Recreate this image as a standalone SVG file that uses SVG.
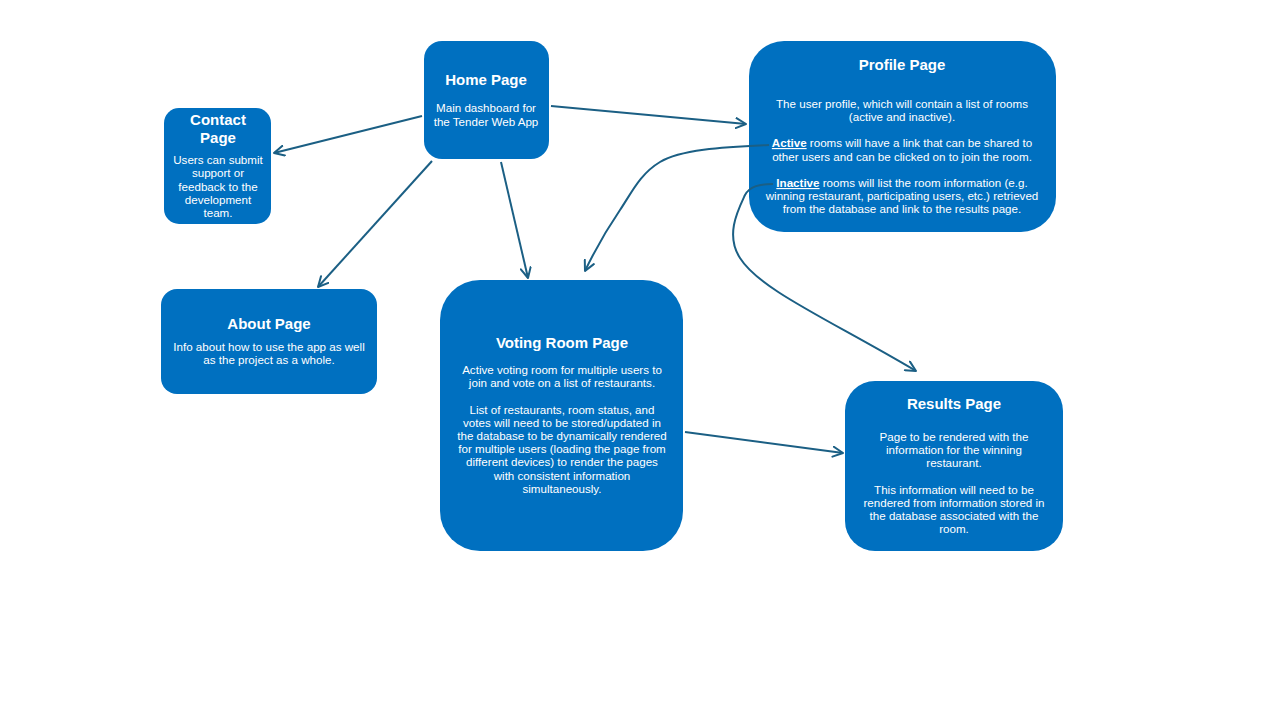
<svg xmlns="http://www.w3.org/2000/svg" width="1280" height="720" viewBox="0 0 1280 720">
<defs>
<style>
.node{fill:#0070C0;}
.t{font-family:"Liberation Sans",Arial,sans-serif;fill:#fff;text-anchor:middle;}
.h{font-size:15px;font-weight:bold;}
.b{font-size:11.6px;}
.u{font-weight:bold;text-decoration:underline;}
.c{fill:none;stroke:#1B5F84;stroke-width:2;marker-end:url(#ah);}
</style>
<marker id="ah" viewBox="0 0 12 12" refX="11" refY="6" markerWidth="12" markerHeight="12" markerUnits="userSpaceOnUse" orient="auto">
<path d="M1,1 L11,6 L1,11" fill="none" stroke="#1B5F84" stroke-width="2" stroke-linecap="round" stroke-linejoin="round"/>
</marker>
</defs>
<rect width="1280" height="720" fill="#fff"/>
<g id="home">
<rect class="node" x="424" y="41" width="125" height="118" rx="18"/>
<text class="t h" x="486" y="85">Home Page</text>
<text class="t b" x="486" y="112">Main dashboard for</text>
<text class="t b" x="486" y="126">the Tender Web App</text>
</g>
<g id="contact">
<rect class="node" x="164" y="108" width="107" height="116" rx="15"/>
<text class="t h" x="218" y="125">Contact</text>
<text class="t h" x="218" y="143">Page</text>
<text class="t b" x="218" y="164">Users can submit</text>
<text class="t b" x="218" y="177">support or</text>
<text class="t b" x="218" y="191">feedback to the</text>
<text class="t b" x="218" y="204">development</text>
<text class="t b" x="218" y="217">team.</text>
</g>
<g id="profile">
<rect class="node" x="749" y="41" width="307" height="191" rx="35"/>
<text class="t h" x="902" y="70">Profile Page</text>
<text class="t b" x="902" y="108">The user profile, which will contain a list of rooms</text>
<text class="t b" x="902" y="121">(active and inactive).</text>
<text class="t b" x="902" y="147"><tspan class="u">Active</tspan> rooms will have a link that can be shared to</text>
<text class="t b" x="902" y="161">other users and can be clicked on to join the room.</text>
<text class="t b" x="902" y="187"><tspan class="u">Inactive</tspan> rooms will list the room information (e.g.</text>
<text class="t b" x="902" y="200">winning restaurant, participating users, etc.) retrieved</text>
<text class="t b" x="902" y="213">from the database and link to the results page.</text>
</g>
<g id="about">
<rect class="node" x="161" y="289" width="216" height="105" rx="16"/>
<text class="t h" x="269" y="329">About Page</text>
<text class="t b" x="269" y="351">Info about how to use the app as well</text>
<text class="t b" x="269" y="364">as the project as a whole.</text>
</g>
<g id="voting">
<rect class="node" x="440" y="280" width="243" height="271" rx="40"/>
<text class="t h" x="562" y="348">Voting Room Page</text>
<text class="t b" x="562" y="374">Active voting room for multiple users to</text>
<text class="t b" x="562" y="387">join and vote on a list of restaurants.</text>
<text class="t b" x="562" y="414">List of restaurants, room status, and</text>
<text class="t b" x="562" y="427">votes will need to be stored/updated in</text>
<text class="t b" x="562" y="440">the database to be dynamically rendered</text>
<text class="t b" x="562" y="453">for multiple users (loading the page from</text>
<text class="t b" x="562" y="466">different devices) to render the pages</text>
<text class="t b" x="562" y="480">with consistent information</text>
<text class="t b" x="562" y="493">simultaneously.</text>
</g>
<g id="results">
<rect class="node" x="845" y="381" width="218" height="170" rx="30"/>
<text class="t h" x="954" y="409">Results Page</text>
<text class="t b" x="954" y="441">Page to be rendered with the</text>
<text class="t b" x="954" y="454">information for the winning</text>
<text class="t b" x="954" y="467">restaurant.</text>
<text class="t b" x="954" y="494">This information will need to be</text>
<text class="t b" x="954" y="507">rendered from information stored in</text>
<text class="t b" x="954" y="520">the database associated with the</text>
<text class="t b" x="954" y="533">room.</text>
</g>
<g id="connectors">
<path class="c" d="M422,116 L274,153"/>
<path class="c" d="M551,106 L746,124"/>
<path class="c" d="M432,161 L318,287"/>
<path class="c" d="M501,162 L528,278"/>
<path class="c" d="M769,145 C720,147 680,150 660,162 C640,174 632,192 620,210 C605,232 595,250 585,271"/>
<path class="c" d="M773,184 C760,184 750,186 745,195 C738,210 725,235 740,258 C760,290 830,320 916,371"/>
<path class="c" d="M685,432 L843,453"/>
</g>
</svg>
